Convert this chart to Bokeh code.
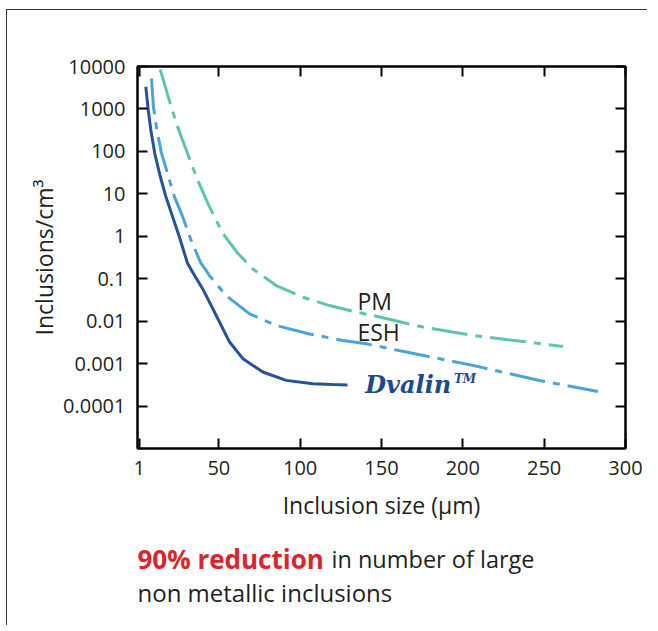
from bokeh.plotting import figure
from bokeh.layouts import column
from bokeh.models import (LinearAxis, LogAxis, FixedTicker, Label,
                          CustomJSTickFormatter, Range1d)
from bokeh.embed import file_html
from bokeh.resources import INLINE

# ---------------- data ----------------
x_ticks = [1, 50, 100, 150, 200, 250, 300]
y_ticks = [10000, 1000, 100, 10, 1, 0.1, 0.01, 0.001, 0.0001]

dvalin_x = [5.1, 6.6, 8.2, 10.6, 14.0, 17.4, 21.5, 25.6, 30.7, 34.0, 40.1, 48.4, 56.6,
            64.8, 77.0, 91.4, 107.8, 120.1, 129.1]
dvalin_y = [3330, 940, 318, 90, 25.6, 8.7, 2.94, 1.0, 0.235, 0.14, 0.0575, 0.0136, 0.00322,
            0.00131, 6.35e-4, 4.03e-4, 3.37e-4, 3.2e-4, 3.15e-4]

esh_x = [8.6, 9.8, 11.9, 14.8, 18.4, 22.6, 27.7, 32.8, 38.9, 44.3, 54.5, 68.9, 85.3,
         105.7, 126.2, 140.6, 165.2, 206.1, 247.1, 283.0]
esh_y = [5220, 1130, 318, 90, 30.6, 8.7, 2.94, 0.83, 0.235, 0.118, 0.040, 0.0149, 0.0079,
         0.0050, 0.00352, 0.00294, 0.00187, 9.1e-4, 4.0e-4, 2.2e-4]

pm_x = [14.0, 19.5, 24.6, 30.7, 36.9, 44.1, 52.3, 61.5, 70.9, 85.3, 101.6, 118.0, 134.4,
        144.7, 175.4, 206.1, 236.9, 261.5]
pm_y = [8500, 1615, 383, 90, 21.3, 5.05, 1.19, 0.404, 0.170, 0.0689, 0.0367, 0.0233,
        0.0163, 0.0136, 0.00726, 0.0046, 0.00333, 0.00254]

series_names = ["PM", "ESH", "Dvalin", "TM"]
caption_bold = "90% reduction"
caption_rest = "in number of large"
caption_line2 = "non metallic inclusions"

DVALIN_C = "#26529c"
ESH_C = "#4aa4da"
PM_C = "#5ec4b2"
TEXT_C = "#231f20"
FONT = "Open Sans"

p = figure(width=640, height=520, x_range=Range1d(0, 300), y_range=Range1d(1e-5, 1e4),
           y_axis_type="log", output_backend="svg", toolbar_location=None,
           min_border_left=130, min_border_right=22, min_border_top=56, min_border_bottom=82)
p.grid.visible = False
p.outline_line_color = "black"
p.outline_line_width = 2
p.background_fill_color = "white"
p.border_fill_color = "white"

def style_axis(ax):
    ax.axis_line_color = "black"
    ax.axis_line_width = 2
    ax.major_tick_line_color = "black"
    ax.major_tick_line_width = 2
    ax.major_tick_in = 10
    ax.major_tick_out = 0
    ax.minor_tick_line_color = None
    ax.major_label_text_font = FONT
    ax.major_label_text_font_size = "20px"
    ax.major_label_text_color = TEXT_C
    ax.axis_label_text_font = FONT
    ax.axis_label_text_font_size = "23px"
    ax.axis_label_text_font_style = "normal"
    ax.axis_label_text_color = TEXT_C

xa = p.xaxis[0]
xa.ticker = FixedTicker(ticks=x_ticks)
xa.axis_label = "Inclusion size (μm)"
style_axis(xa)
xa.major_label_standoff = 12
xa.axis_label_standoff = 11

ya = p.yaxis[0]
ya.ticker = FixedTicker(ticks=y_ticks)
ya.formatter = CustomJSTickFormatter(code="return tick.toString()")
ya.axis_label = "Inclusions/cm³"
style_axis(ya)
ya.major_label_standoff = 12
ya.axis_label_standoff = 0

blank = "return ''"
top = LinearAxis(ticker=FixedTicker(ticks=x_ticks), formatter=CustomJSTickFormatter(code=blank))
style_axis(top)
p.add_layout(top, "above")
right = LogAxis(ticker=FixedTicker(ticks=y_ticks), formatter=CustomJSTickFormatter(code=blank))
style_axis(right)
p.add_layout(right, "right")

# ---------------- curves ----------------
p.line(pm_x, pm_y, line_color=PM_C, line_width=3, line_dash="36 8 7 8", line_join="round")
p.line(esh_x, esh_y, line_color=ESH_C, line_width=3, line_dash="36 8 7 8", line_join="round")
p.line(dvalin_x, dvalin_y, line_color=DVALIN_C, line_width=3, line_join="round")

# ---------------- series labels ----------------
p.add_layout(Label(x=135.2, y=0.030, text=series_names[0], text_font=FONT, text_font_size="23px",
                   text_color=TEXT_C, text_baseline="middle"))
p.add_layout(Label(x=135.2, y=0.0056, text=series_names[1], text_font=FONT, text_font_size="23px",
                   text_color=TEXT_C, text_baseline="middle"))
p.add_layout(Label(x=140.0, y=3.2e-4, text=series_names[2], text_font="DejaVu Serif",
                   text_font_size="24px", text_font_style="bold italic",
                   text_color="#1d4a8c", text_baseline="middle"))
p.add_layout(Label(x=194.5, y=4.3e-4, text=series_names[3], text_font="DejaVu Serif",
                   text_font_size="12px", text_font_style="bold italic",
                   text_color="#1d4a8c", text_baseline="middle"))

# ---------------- caption (page-pixel-space figure) ----------------
cap = figure(width=640, height=95, x_range=Range1d(138, 626), y_range=Range1d(636, 541),
             output_backend="svg", toolbar_location=None,
             x_axis_location=None, y_axis_location=None,
             min_border_left=0, min_border_right=0, min_border_top=0, min_border_bottom=0)
cap.grid.visible = False
cap.outline_line_color = None
cap.background_fill_color = "white"
cap.border_fill_color = "white"
cap.add_layout(Label(x=138, y=569, text=caption_bold, text_font=FONT,
                     text_font_size="26px", text_font_style="bold", text_color="#d9262b",
                     text_baseline="alphabetic"))
cap.add_layout(Label(x=332, y=569, text=caption_rest, text_font=FONT,
                     text_font_size="23.5px", text_color=TEXT_C, text_baseline="alphabetic"))
cap.add_layout(Label(x=138, y=603, text=caption_line2, text_font=FONT,
                     text_font_size="24px", text_color=TEXT_C, text_baseline="alphabetic"))

layout = column(p, cap, margin=(9, 0, 0, 6),
                styles={"border-left": "1.5px solid #333333", "border-top": "1.5px solid #333333"})

open("out.html", "w").write(file_html(layout, INLINE))
